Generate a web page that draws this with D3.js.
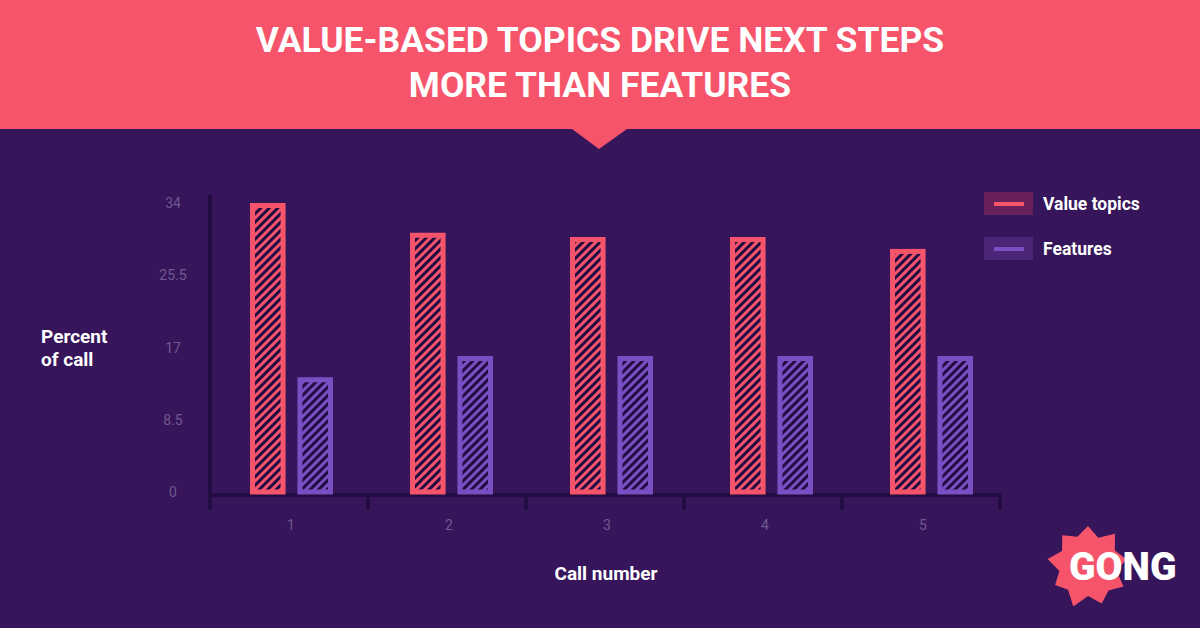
<!DOCTYPE html>
<html><head><meta charset="utf-8">
<script src="https://cdn.jsdelivr.net/npm/d3@7"></script>
<style>html,body{margin:0;padding:0;background:#36155a;}svg{display:block;}</style>
</head><body>
<svg id="c" width="1200" height="628"></svg>
<script>
const categories = ["1","2","3","4","5"];
const seriesNames = ["Value topics","Features"];
const valueTopics = [34, 30.5, 30, 30, 28.6];
const features = [13.5, 16, 16, 16, 16];
const yTicks = [0, 8.5, 17, 25.5, 34];
const titleLines = ["VALUE-BASED TOPICS DRIVE NEXT STEPS","MORE THAN FEATURES"];

const W = 1200, H = 628;
const bg = "#36155a", pink = "#f5546a", violet = "#7a4fc4", dark = "#220c42";
const svg = d3.select("#c");
svg.append("rect").attr("width",W).attr("height",H).attr("fill",bg);

// header
svg.append("path").attr("fill",pink)
  .attr("d","M0,0H1200V129H627L599,149L572,129H0Z");
svg.selectAll("text.title").data(titleLines).enter().append("text")
  .attr("x",600).attr("y",(d,i)=>52+i*45).attr("text-anchor","middle")
  .attr("fill","#fff").attr("font-family","Roboto, 'Noto Sans', sans-serif")
  .attr("font-weight",700).attr("font-size",35.5).text(d=>d);

// patterns
const defs = svg.append("defs");
function pat(id, col){
  const p = defs.append("pattern").attr("id",id).attr("patternUnits","userSpaceOnUse")
    .attr("width",6).attr("height",6).attr("patternTransform","rotate(45)");
  p.append("rect").attr("width",6).attr("height",6).attr("fill",col);
  p.append("rect").attr("x",0).attr("width",3).attr("height",6).attr("fill",dark);
}
pat("hp", pink); pat("hv", violet);

// tick scale and bar scale
const xt = d3.scaleBand().domain(categories).range([210,1000]);
const x0 = d3.scaleBand().domain(categories).range([210,1010]);
const x1 = d3.scaleBand().domain(seriesNames).range([40, 123]).paddingInner(0.25);
const y = d3.scaleLinear().domain([0,34]).range([492,203]);

// axes
svg.append("line").attr("x1",210).attr("x2",210).attr("y1",195).attr("y2",510)
  .attr("stroke",dark).attr("stroke-width",4);
svg.append("line").attr("x1",208).attr("x2",1002).attr("y1",495).attr("y2",495)
  .attr("stroke",dark).attr("stroke-width",4);
const xTickPos = categories.map(c=>xt(c)).concat([xt.range()[1]]);
svg.selectAll("line.xt").data(xTickPos).enter().append("line")
  .attr("x1",d=>d).attr("x2",d=>d).attr("y1",495).attr("y2",510)
  .attr("stroke",dark).attr("stroke-width",4);

svg.selectAll("text.yt").data(yTicks).enter().append("text")
  .attr("x",173).attr("y",d=>y(d)+5).attr("text-anchor","middle")
  .attr("fill","#6f5a8f").attr("font-family","Roboto, sans-serif").attr("font-size",14)
  .text(d=>d);
svg.selectAll("text.xl").data(categories).enter().append("text")
  .attr("x",d=>xt(d)+xt.bandwidth()/2+2).attr("y",530).attr("text-anchor","middle")
  .attr("fill","#6f5a8f").attr("font-family","Roboto, sans-serif").attr("font-size",14)
  .text(d=>d);

// bars
const seriesVals = [valueTopics, features];
const cols = [pink, violet], pats = ["url(#hp)","url(#hv)"];
categories.forEach((c,i)=>{
  seriesNames.forEach((s,j)=>{
    const v = seriesVals[j][i];
    svg.append("rect")
      .attr("x",x0(c)+x1(s)+2.5).attr("y",y(v)+2.5)
      .attr("width",x1.bandwidth()-5).attr("height",y(0)-y(v)-2.5)
      .attr("fill",pats[j]).attr("stroke",cols[j]).attr("stroke-width",5);
  });
});

// legend
const legBg = ["#67205a","#4a2578"];
seriesNames.forEach((s,j)=>{
  const ly = 192 + j*45;
  svg.append("rect").attr("x",984).attr("y",ly).attr("width",49).attr("height",23).attr("fill",legBg[j]);
  svg.append("rect").attr("x",994).attr("y",ly+10).attr("width",30).attr("height",4).attr("fill",cols[j]);
  svg.append("text").attr("x",1043).attr("y",ly+18).attr("fill","#fff")
    .attr("font-family","Roboto, sans-serif").attr("font-weight",700).attr("font-size",17.5).text(s);
});

// axis titles
svg.append("text").attr("fill","#fff").attr("font-family","Roboto, sans-serif").attr("font-weight",700)
  .attr("font-size",19).selectAll("tspan").data(["Percent","of call"]).enter().append("tspan")
  .attr("x",41).attr("y",(d,i)=>343+i*23).text(d=>d);
svg.append("text").attr("x",606).attr("y",580).attr("text-anchor","middle").attr("fill","#fff")
  .attr("font-family","Roboto, sans-serif").attr("font-weight",700).attr("font-size",19).text("Call number");

// logo
const radii = [40,30,42,31,39,29,41,32,40,30,43,31,38,29,41,30,40,31];
const cx = 1088, cy = 566;
const pts = radii.map((r,i)=>{const a = i/radii.length*2*Math.PI - Math.PI/2; return [cx+r*Math.cos(a), cy+r*Math.sin(a)];});
svg.append("path").attr("d", d3.line()(pts)+"Z").attr("fill",pink);
svg.append("text").attr("x",1069).attr("y",580).attr("fill","#fff")
  .attr("font-family","Roboto, sans-serif").attr("font-weight",900).attr("font-size",39).text("GONG");
</script>
</body></html>
